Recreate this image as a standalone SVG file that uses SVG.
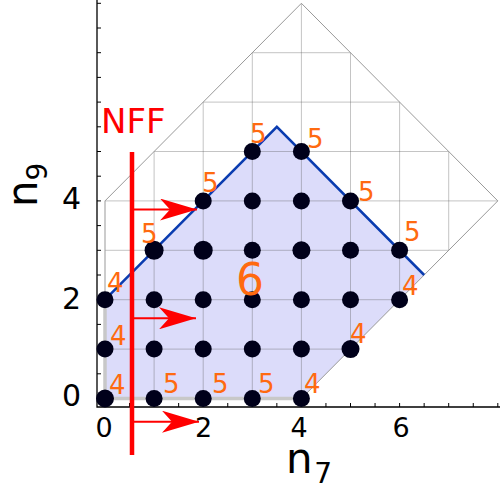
<svg xmlns="http://www.w3.org/2000/svg" width="500" height="488" viewBox="0 0 500 488">
<defs>
<style>
.grid{stroke:#555;stroke-opacity:0.35;stroke-width:1;fill:none}
.dot{fill:#00001a}
.lbl{font-family:"DejaVu Sans",sans-serif;font-size:26px;fill:#ff6a10}
.tick{font-family:"DejaVu Sans",sans-serif;fill:#000}
.ax{stroke:#000;stroke-width:1.3;fill:none}
.tk{stroke:#000;stroke-width:1}
.arr{stroke:#ff0000;stroke-width:2;fill:none}
</style>
<marker id="ah" viewBox="0 0 38 22" markerWidth="38" markerHeight="22" refX="37" refY="11" orient="auto" markerUnits="userSpaceOnUse">
<path d="M0,0 L37,11 L0,22 L10,11 Z" fill="#ff0000"/>
</marker>
</defs>
<rect width="500" height="488" fill="#fff"/>

<g id="region">
<polygon points="105,398.5 105,299.7 276.85,126.8 424.15,275 301.4,398.5" fill="#dcdcfa"/>
</g>

<g id="grid">
<path class="grid" d="M105,349.1H350.5 M105,299.7H399.6 M105,250.3H448.7 M105,200.9H497.8 M154.1,151.5H448.7 M203.2,102.1H399.6 M252.3,52.7H350.5 M154.1,398.5V151.5 M203.2,398.5V102.1 M252.3,398.5V52.7 M301.4,398.5V3.3 M350.5,349.1V52.7 M399.6,299.7V102.1 M448.7,250.3V151.5"/>
<path d="M105,398.5 L105,200.9 L301.4,3.3 L497.8,200.9 L301.4,398.5" fill="none" stroke="#999" stroke-width="1"/>
<path d="M105,299.7 L105,398.5 L301.4,398.5" fill="none" stroke="#c8c8c8" stroke-width="3.5"/>
</g>

<g id="boundary">
<polyline points="105,299.7 276.85,126.8 424.15,275" fill="none" stroke="#0a3cb0" stroke-width="2.5"/>
</g>

<g id="axes">
<path class="ax" d="M97,0V407H500"/>
<path class="tk" d="M105,407v-4 M129.55,407v-4 M154.1,407v-4 M178.65,407v-4 M203.2,407v-4 M227.75,407v-4 M252.3,407v-4 M276.85,407v-4 M301.4,407v-4 M325.95,407v-4 M350.5,407v-4 M375.05,407v-4 M399.6,407v-4 M424.15,407v-4 M448.7,407v-4 M473.25,407v-4 M497.8,407v-4"/>
<path class="tk" d="M97,398.5h4 M97,373.8h4 M97,349.1h4 M97,324.4h4 M97,299.7h4 M97,275h4 M97,250.3h4 M97,225.6h4 M97,200.9h4 M97,176.2h4 M97,151.5h4 M97,126.8h4 M97,102.1h4 M97,77.4h4 M97,52.7h4 M97,28h4 M97,3.3h4"/>
<g class="tick" font-size="27" text-anchor="middle">
<text x="104" y="437">0</text>
<text x="203.5" y="437">2</text>
<text x="299" y="437">4</text>
<text x="401" y="437">6</text>
</g>
<g class="tick" font-size="30" text-anchor="end">
<text x="81" y="406">0</text>
<text x="81" y="309">2</text>
<text x="81" y="209">4</text>
</g>
<text class="tick" x="286" y="473" font-size="42">n<tspan font-size="28" dx="1.5" dy="10">7</tspan></text>
<text class="tick" transform="translate(37,207) rotate(-90)" font-size="42">n<tspan font-size="28" dy="10">9</tspan></text>
</g>

<g id="points">
<circle class="dot" cx="105" cy="398.5" r="9"/>
<circle class="dot" cx="154.1" cy="398.5" r="8.5"/>
<circle class="dot" cx="203.2" cy="398.5" r="8.5"/>
<circle class="dot" cx="252.3" cy="398.5" r="8.5"/>
<circle class="dot" cx="301.4" cy="398.5" r="8.5"/>
<circle class="dot" cx="105" cy="349.1" r="8.5"/>
<circle class="dot" cx="154.1" cy="349.1" r="8.5"/>
<circle class="dot" cx="203.2" cy="349.1" r="8.5"/>
<circle class="dot" cx="252.3" cy="349.1" r="8.5"/>
<circle class="dot" cx="301.4" cy="349.1" r="8.5"/>
<circle class="dot" cx="350.5" cy="349.1" r="9"/>
<circle class="dot" cx="105" cy="299.7" r="8.5"/>
<circle class="dot" cx="154.1" cy="299.7" r="8.5"/>
<circle class="dot" cx="203.2" cy="299.7" r="8.5"/>
<circle class="dot" cx="252.3" cy="299.7" r="8.5"/>
<circle class="dot" cx="301.4" cy="299.7" r="8.5"/>
<circle class="dot" cx="350.5" cy="299.7" r="8.5"/>
<circle class="dot" cx="399.6" cy="299.7" r="8.5"/>
<circle class="dot" cx="154.1" cy="250.3" r="9.5"/>
<circle class="dot" cx="203.2" cy="250.3" r="9.5"/>
<circle class="dot" cx="252.3" cy="250.3" r="8.5"/>
<circle class="dot" cx="301.4" cy="250.3" r="9"/>
<circle class="dot" cx="350.5" cy="250.3" r="8.5"/>
<circle class="dot" cx="399.6" cy="250.3" r="8.5"/>
<circle class="dot" cx="203.2" cy="200.9" r="8.5"/>
<circle class="dot" cx="252.3" cy="200.9" r="8.5"/>
<circle class="dot" cx="301.4" cy="200.9" r="8.5"/>
<circle class="dot" cx="350.5" cy="200.9" r="8.5"/>
<circle class="dot" cx="252.3" cy="151.5" r="8.5"/>
<circle class="dot" cx="301.4" cy="151.5" r="8.5"/>
</g>

<g id="labels">
<text class="lbl" x="109" y="394">4</text>
<text class="lbl" x="110" y="345">4</text>
<text class="lbl" x="107" y="292">4</text>
<text class="lbl" x="163" y="393">5</text>
<text class="lbl" x="212" y="393">5</text>
<text class="lbl" x="258" y="393">5</text>
<text class="lbl" x="304" y="393">4</text>
<text class="lbl" x="350" y="343">4</text>
<text class="lbl" x="402" y="295">4</text>
<text class="lbl" x="404" y="241">5</text>
<text class="lbl" x="358" y="201">5</text>
<text class="lbl" x="307" y="148">5</text>
<text class="lbl" x="250" y="143">5</text>
<text class="lbl" x="202" y="192">5</text>
<text class="lbl" x="141" y="243">5</text>
<text class="lbl" x="236" y="295" style="font-size:44px">6</text>
</g>

<g id="nff">
<text x="101" y="133" font-family="DejaVu Sans, sans-serif" font-size="34" fill="#ff0000">NFF</text>
<line x1="132" y1="152" x2="132" y2="455" stroke="#ff0000" stroke-width="4.5"/>
</g>

<g id="connectors">
<line class="arr" x1="132" y1="209.5" x2="197" y2="209.5" marker-end="url(#ah)"/>
<line class="arr" x1="132" y1="318.3" x2="196" y2="318.3" marker-end="url(#ah)"/>
<line class="arr" x1="132" y1="421.7" x2="199" y2="421.7" marker-end="url(#ah)"/>
</g>
</svg>
